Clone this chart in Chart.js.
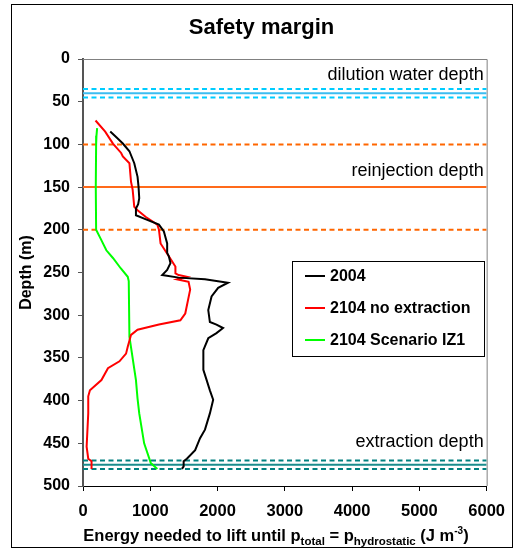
<!DOCTYPE html>
<html>
<head>
<meta charset="utf-8">
<title>Safety margin</title>
<script src="https://cdn.jsdelivr.net/npm/chart.js@4.4.1/dist/chart.umd.min.js"></script>
<style>
  body { margin: 0; background: #fff; }
  canvas { display: block; }
</style>
</head>
<body>
<canvas id="plot" width="516" height="550"></canvas>
<script>
// axes
let depthTicks = [0, 50, 100, 150, 200, 250, 300, 350, 400, 450, 500];
let energyTicks = [0, 1000, 2000, 3000, 4000, 5000, 6000];

let seriesNames = ['2004', '2104 no extraction', '2104 Scenario IZ1'];

// 2004 profile
let depth2004 = [85, 92, 99, 108, 122, 138, 150, 163, 170, 175, 183, 187, 194, 202, 216, 227, 231, 239, 247, 253,
  256, 258, 262, 268, 278, 294, 308, 311, 315, 321, 327, 341, 364, 376, 388, 399, 415, 434, 444, 458, 468, 471, 477, 480];
let energy2004 = [405, 500, 592, 690, 762, 811, 826, 836, 820, 787, 787, 909, 1129, 1202, 1251, 1251, 1276, 1300, 1251, 1178,
  1422, 1813, 2155, 2009, 1911, 1862, 1886, 1984, 2082, 1984, 1862, 1789, 1789, 1838, 1886, 1935, 1886, 1813, 1740, 1667, 1544, 1496, 1496, 1471];

// 2104 without extraction
let depthNoExtr = [72, 85, 99, 110, 114, 122, 144, 153, 173, 177, 185, 194, 200, 216, 231, 243, 251, 253, 255, 258,
  261, 270, 298, 306, 311, 317, 323, 337, 345, 354, 362, 376, 388, 395, 415, 454, 468, 471, 480];
let energyNoExtr = [186, 330, 445, 567, 592, 690, 714, 738, 762, 811, 934, 1105, 1129, 1153, 1276, 1373, 1374, 1422, 1544, 1398,
  1569, 1593, 1520, 1447, 1129, 811, 714, 665, 640, 542, 371, 274, 103, 78, 78, 54, 78, 127, 127];

// 2104 scenario IZ1
let depthIZ1 = [81, 90, 100, 150, 200, 210, 224, 233, 245, 255, 260, 325, 376, 397, 415, 450, 473, 480];
let energyIZ1 = [210, 200, 195, 190, 195, 260, 347, 445, 560, 665, 680, 690, 787, 810, 836, 909, 1007, 1105];

// reference depths (m)
let dilutionDepths = [35, 40, 45];
let reinjectionDepths = [100, 150, 200];
let extractionDepths = [470, 475, 480];
let depthLabels = ['dilution water depth', 'reinjection depth', 'extraction depth'];

const FONT = 'Arial, "Liberation Sans", sans-serif';
Chart.defaults.font.family = FONT;
Chart.defaults.color = '#000';

let toPoints = (xs, ys) => xs.map((x, i) => ({x: x, y: ys[i]}));

let profile = (label, xs, ys, color) => ({
  label: label,
  data: toPoints(xs, ys),
  showLine: true,
  borderColor: color,
  borderWidth: 2,
  pointRadius: 0,
  fill: false
});

let xMin = energyTicks[0];
let xMax = energyTicks[energyTicks.length - 1];

let depthLine = (d, color, dashed, width) => ({
  label: '',
  data: [{x: xMin, y: d}, {x: xMax, y: d}],
  showLine: true,
  borderColor: color,
  borderWidth: width,
  borderDash: dashed ? [5, 3.5] : [],
  pointRadius: 0,
  fill: false
});

let datasets = [
  profile(seriesNames[0], energy2004, depth2004, '#000000'),
  profile(seriesNames[1], energyNoExtr, depthNoExtr, '#ff0000'),
  profile(seriesNames[2], energyIZ1, depthIZ1, '#00ff00'),
  depthLine(dilutionDepths[0], '#00ccff', true, 2),
  depthLine(dilutionDepths[1], '#3cbcf0', false, 2),
  depthLine(dilutionDepths[2], '#00ccff', true, 2),
  depthLine(reinjectionDepths[0], '#ff6600', true, 2),
  depthLine(reinjectionDepths[1], '#ff6a1a', false, 2),
  depthLine(reinjectionDepths[2], '#ff6600', true, 2),
  depthLine(extractionDepths[0], '#008080', true, 2),
  depthLine(extractionDepths[1], '#1a8c8c', false, 2),
  depthLine(extractionDepths[2], '#008080', true, 2)
];

// x axis title with sub/superscripts
let drawEnergyTitle = (ctx, cx, baseline) => {
  let parts = [
    {t: 'Energy needed to lift until p', size: 16.5, dy: 0},
    {t: 'total', size: 11.5, dy: 4},
    {t: ' = p', size: 16.5, dy: 0},
    {t: 'hydrostatic', size: 11.5, dy: 4},
    {t: ' (J m', size: 16.5, dy: 0},
    {t: '-3', size: 10, dy: -7},
    {t: ')', size: 16.5, dy: 0}
  ];
  let total = 0;
  parts.forEach(p => {
    ctx.font = `bold ${p.size}px ${FONT}`;
    p.w = ctx.measureText(p.t).width;
    total += p.w;
  });
  let x = cx - total / 2;
  ctx.textAlign = 'left';
  ctx.textBaseline = 'alphabetic';
  parts.forEach(p => {
    ctx.font = `bold ${p.size}px ${FONT}`;
    ctx.fillText(p.t, x, baseline + p.dy);
    x += p.w;
  });
};

let decorations = {
  id: 'decorations',
  beforeDraw: (chart) => {
    let ctx = chart.ctx;
    ctx.save();
    ctx.fillStyle = '#fff';
    ctx.fillRect(0, 0, chart.width, chart.height);
    ctx.restore();
  },
  beforeDatasetsDraw: (chart) => {
    let ctx = chart.ctx;
    let a = chart.chartArea;
    ctx.save();
    ctx.strokeStyle = '#808080';
    ctx.lineWidth = 1;
    ctx.beginPath();
    ctx.moveTo(a.left, a.top + 0.5);
    ctx.lineTo(a.right + 0.5, a.top + 0.5);
    ctx.lineTo(a.right + 0.5, a.bottom);
    ctx.stroke();
    ctx.restore();
  },
  afterDraw: (chart) => {
    let ctx = chart.ctx;
    let y = chart.scales.y;
    let a = chart.chartArea;
    ctx.save();

    // outer frame
    ctx.strokeStyle = '#000';
    ctx.lineWidth = 1;
    ctx.strokeRect(11.5, 4.5, 501, 543);

    // title
    ctx.fillStyle = '#000';
    ctx.font = `bold 22px ${FONT}`;
    ctx.textAlign = 'center';
    ctx.textBaseline = 'middle';
    ctx.fillText('Safety margin', 261.5, 28);

    // depth labels above the reference lines
    ctx.font = `18px ${FONT}`;
    ctx.textAlign = 'right';
    ctx.textBaseline = 'alphabetic';
    let mids = [dilutionDepths[1], reinjectionDepths[1], extractionDepths[1]];
    let lift = [13, 11, 18];
    mids.forEach((d, i) => {
      ctx.fillText(depthLabels[i], a.right - 3, y.getPixelForValue(d) - lift[i]);
    });

    // legend
    let lx = 292.5, ly = 261.5, lw = 192, lh = 95;
    ctx.fillStyle = '#fff';
    ctx.fillRect(lx, ly, lw, lh);
    ctx.strokeStyle = '#000';
    ctx.strokeRect(lx, ly, lw, lh);
    ctx.font = `bold 16px ${FONT}`;
    ctx.textAlign = 'left';
    ctx.textBaseline = 'middle';
    seriesNames.forEach((name, i) => {
      let ry = ly + 14.5 + i * 32;
      ctx.strokeStyle = chart.data.datasets[i].borderColor;
      ctx.lineWidth = 2;
      ctx.beginPath();
      ctx.moveTo(305, ry);
      ctx.lineTo(325, ry);
      ctx.stroke();
      ctx.fillStyle = '#000';
      ctx.fillText(name, 330, ry + 1);
    });

    // x axis title
    ctx.fillStyle = '#000';
    drawEnergyTitle(ctx, 276, 541);
    ctx.restore();
  }
};

let config = {
  type: 'scatter',
  data: {datasets: datasets},
  options: {
    responsive: false,
    animation: false,
    devicePixelRatio: 1,
    layout: {padding: {top: 59, right: 24, left: 0, bottom: 0}},
    plugins: {
      legend: {display: false},
      title: {display: false},
      tooltip: {enabled: false}
    },
    scales: {
      x: {
        type: 'linear',
        min: xMin,
        max: xMax,
        afterBuildTicks: (scale) => { scale.ticks = energyTicks.map(v => ({value: v})); },
        afterFit: (scale) => { scale.height = 64; },
        grid: {drawOnChartArea: false, drawTicks: true, tickLength: 5, tickColor: '#000'},
        border: {display: true, color: '#000', width: 1},
        ticks: {
          font: {size: 16.5, weight: 'bold'}, padding: 11, maxRotation: 0, color: '#000',
          callback: (v) => String(v)
        }
      },
      y: {
        type: 'linear',
        reverse: true,
        min: depthTicks[0],
        max: depthTicks[depthTicks.length - 1],
        afterBuildTicks: (scale) => { scale.ticks = depthTicks.map(v => ({value: v})); },
        afterFit: (scale) => { scale.width = 83; },
        grid: {drawOnChartArea: false, drawTicks: true, tickLength: 5, tickColor: '#555'},
        border: {display: true, color: '#555', width: 2},
        ticks: {font: {size: 16, weight: 'bold'}, padding: 8, color: '#000', callback: (v) => String(v)},
        title: {display: true, text: 'Depth (m)', font: {size: 16, weight: 'bold'}, padding: {top: 17}, color: '#000'}
      }
    }
  },
  plugins: [decorations]
};

let chart1 = new Chart(document.getElementById('plot'), config);
</script>
</body>
</html>
